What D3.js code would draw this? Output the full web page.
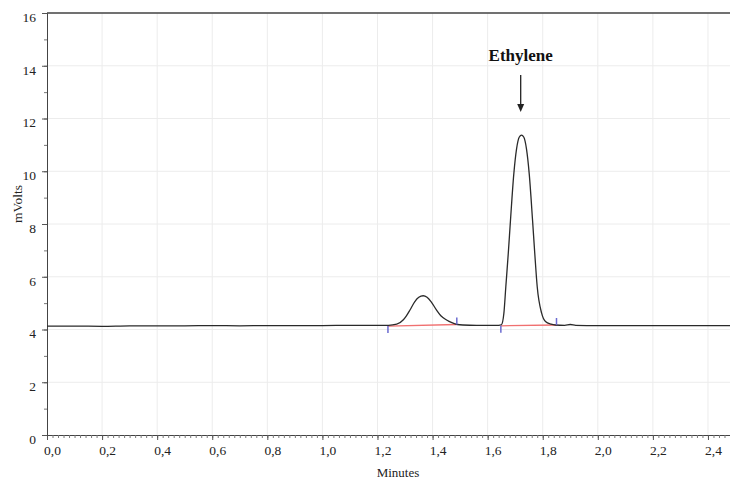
<!DOCTYPE html>
<html>
<head>
<meta charset="utf-8">
<script src="https://cdn.jsdelivr.net/npm/d3@7"></script>
<style>
  body { margin: 0; background: #fff; }
  svg { display: block; }
</style>
</head>
<body>
<div id="chart"></div>
<script>
// retention time (min) and detector signal (mV)
var times = [0.00, 0.10, 0.20, 0.30, 0.40, 0.50, 0.60, 0.70, 0.80, 0.90, 1.00, 1.10, 1.20,
  1.24, 1.27, 1.293, 1.305, 1.318, 1.335, 1.35, 1.366, 1.38, 1.395, 1.414, 1.43, 1.451, 1.47, 1.49, 1.51,
  1.56, 1.60, 1.64, 1.65, 1.659, 1.666, 1.675, 1.683, 1.695, 1.705, 1.715, 1.723, 1.731, 1.741, 1.751,
  1.763, 1.771, 1.78, 1.796, 1.81, 1.83, 1.845, 1.88, 1.90, 1.92, 2.00, 2.10, 2.20, 2.30, 2.40, 2.48];
var mVolts = [4.13, 4.13, 4.12, 4.14, 4.14, 4.14, 4.15, 4.14, 4.15, 4.15, 4.15, 4.16, 4.16,
  4.16, 4.20, 4.36, 4.52, 4.74, 5.05, 5.22, 5.28, 5.22, 5.05, 4.74, 4.52, 4.36, 4.26, 4.19, 4.17,
  4.16, 4.16, 4.16, 4.18, 4.62, 5.62, 6.90, 8.15, 9.90, 10.85, 11.30, 11.37, 11.30, 10.85, 9.90,
  8.15, 6.90, 5.62, 4.62, 4.30, 4.20, 4.17, 4.16, 4.19, 4.16, 4.15, 4.15, 4.15, 4.15, 4.15, 4.15];

// integration baselines [start, end] with their signal levels
var peakStarts = [1.238, 1.648];
var peakEnds = [1.488, 1.850];
var baseStart = [4.13, 4.14];
var baseEnd = [4.19, 4.17];

var xTicks = [0, 0.2, 0.4, 0.6, 0.8, 1.0, 1.2, 1.4, 1.6, 1.8, 2.0, 2.2, 2.4];
var yTicks = [0, 2, 4, 6, 8, 10, 12, 14, 16];
var annotation = {label: 'Ethylene', time: 1.72};

var width = 730, height = 479;
var margin = {top: 13, right: 0, bottom: 44, left: 47};

var svg = d3.select('#chart').append('svg')
  .attr('width', width).attr('height', height)
  .style('font-family', '"Liberation Serif", "DejaVu Serif", serif');

var x = d3.scaleLinear().domain([0, 2.48]).range([margin.left, width - margin.right]);
var y = d3.scaleLinear().domain([0, 16]).range([height - margin.bottom, margin.top]);

var fmt = d3.formatLocale({decimal: ',', thousands: '.', grouping: [3], currency: ['', '']}).format('.1f');

// grid
svg.append('g').selectAll('line.vg')
  .data(xTicks.slice(1)).enter().append('line')
  .attr('x1', function (d) { return x(d); })
  .attr('x2', function (d) { return x(d); })
  .attr('y1', y(16)).attr('y2', y(0))
  .attr('stroke', '#ececec').attr('stroke-width', 1);

svg.append('g').selectAll('line.hg')
  .data(yTicks.slice(1)).enter().append('line')
  .attr('x1', x(0)).attr('x2', width)
  .attr('y1', function (d) { return y(d); })
  .attr('y2', function (d) { return y(d); })
  .attr('stroke', '#ececec').attr('stroke-width', 1);

// top frame
svg.append('line')
  .attr('x1', x(0)).attr('x2', width)
  .attr('y1', y(16)).attr('y2', y(16))
  .attr('stroke', '#444').attr('stroke-width', 1.5);

// axes
var xAxis = svg.append('g')
  .attr('transform', 'translate(0,' + y(0) + ')')
  .call(d3.axisBottom(x).tickValues(d3.range(0, 2.481, 0.02)).tickSize(3).tickFormat(''));
xAxis.select('.domain').attr('stroke', '#444');
xAxis.selectAll('.tick line').attr('stroke', '#777');

var xLabels = svg.append('g')
  .attr('transform', 'translate(0,' + y(0) + ')')
  .call(d3.axisBottom(x).tickValues(xTicks).tickSize(5).tickFormat(fmt));
xLabels.select('.domain').remove();
xLabels.selectAll('.tick line').attr('stroke', '#555');
xLabels.selectAll('.tick text')
  .attr('dx', 5).attr('dy', '0.9em')
  .attr('font-size', 13.5).attr('fill', '#222')
  .attr('font-family', '"Liberation Serif", serif');

var yAxis = svg.append('g')
  .attr('transform', 'translate(' + x(0) + ',0)')
  .call(d3.axisLeft(y).tickValues(d3.range(0, 16.01, 1)).tickSize(3).tickFormat(''));
yAxis.select('.domain').attr('stroke', '#444');
yAxis.selectAll('.tick line').attr('stroke', '#777');

var yLabels = svg.append('g')
  .attr('transform', 'translate(' + x(0) + ',0)')
  .call(d3.axisLeft(y).tickValues(yTicks).tickSize(5).tickPadding(6).tickFormat(d3.format('d')));
yLabels.select('.domain').remove();
yLabels.selectAll('.tick line').attr('stroke', '#555');
yLabels.selectAll('.tick text')
  .attr('dy', '0.62em')
  .attr('font-size', 13.5).attr('fill', '#222')
  .attr('font-family', '"Liberation Serif", serif');

// axis titles
svg.append('text')
  .attr('x', 398).attr('y', 477)
  .attr('text-anchor', 'middle')
  .attr('font-size', 13).attr('fill', '#222')
  .text('Minutes');

svg.append('text')
  .attr('transform', 'translate(22,204) rotate(-90)')
  .attr('text-anchor', 'middle')
  .attr('font-size', 13.5).attr('fill', '#222')
  .text('mVolts');

// integration baselines
var bases = peakStarts.map(function (s, i) {
  return {s: s, e: peakEnds[i], ys: baseStart[i], ye: baseEnd[i]};
});

svg.append('g').selectAll('line')
  .data(bases).enter().append('line')
  .attr('x1', function (d) { return x(d.s); })
  .attr('x2', function (d) { return x(d.e); })
  .attr('y1', function (d) { return y(d.ys); })
  .attr('y2', function (d) { return y(d.ye); })
  .attr('stroke', '#f07070').attr('stroke-width', 1.3);

// trace
var points = times.map(function (t, i) { return [t, mVolts[i]]; });
var line = d3.line()
  .x(function (d) { return x(d[0]); })
  .y(function (d) { return y(d[1]); })
  .curve(d3.curveMonotoneX);

svg.append('path')
  .datum(points)
  .attr('d', line)
  .attr('fill', 'none')
  .attr('stroke', '#2a2a2a')
  .attr('stroke-width', 1.3);

// peak start / end markers
var marks = svg.append('g');
marks.selectAll('line.start')
  .data(bases).enter().append('line')
  .attr('x1', function (d) { return x(d.s); })
  .attr('x2', function (d) { return x(d.s); })
  .attr('y1', function (d) { return y(d.ys); })
  .attr('y2', function (d) { return y(d.ys) + 7; })
  .attr('stroke', '#6a6ad0').attr('stroke-width', 1.5);
marks.selectAll('line.end')
  .data(bases).enter().append('line')
  .attr('x1', function (d) { return x(d.e); })
  .attr('x2', function (d) { return x(d.e); })
  .attr('y1', function (d) { return y(d.ye); })
  .attr('y2', function (d) { return y(d.ye) - 7; })
  .attr('stroke', '#6a6ad0').attr('stroke-width', 1.5);

// annotation
var ax = x(annotation.time);
svg.append('text')
  .attr('x', ax).attr('y', 61)
  .attr('text-anchor', 'middle')
  .attr('font-size', 17).attr('font-weight', 'bold').attr('fill', '#111')
  .text(annotation.label);

svg.append('line')
  .attr('x1', ax).attr('x2', ax)
  .attr('y1', 75).attr('y2', 105)
  .attr('stroke', '#222').attr('stroke-width', 1.3);

svg.append('path')
  .attr('d', 'M' + (ax - 3.5) + ',104L' + (ax + 3.5) + ',104L' + ax + ',112Z')
  .attr('fill', '#222');
</script>
</body>
</html>
